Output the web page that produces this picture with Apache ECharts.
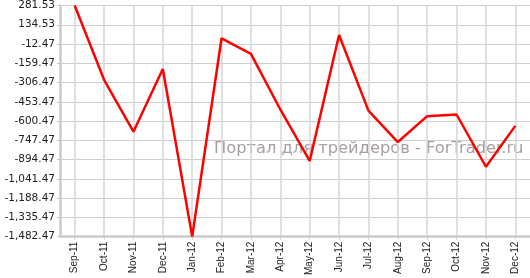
<!DOCTYPE html>
<html>
<head>
<meta charset="utf-8">
<script src="https://cdn.jsdelivr.net/npm/echarts@6/dist/echarts.min.js"></script>
<style>html,body{margin:0;padding:0;background:#fff}#c{width:530px;height:278px}</style>
</head>
<body>
<div id="c"></div>
<script>
var categories = ['Sep-11','Oct-11','Nov-11','Dec-11','Jan-12','Feb-12','Mar-12','Apr-12','May-12','Jun-12','Jul-12','Aug-12','Sep-12','Oct-12','Nov-12','Dec-12'];
var values = [281.53, -285.2, -681.8, -203.5, -1482.47, 31.2, -87.6, -512.0, -904.6, 56.5, -520.6, -760.5, -562.9, -550.3, -949.1, -637.2];
var yMin = -1482.47;
var yMax = 281.53;
var yStep = 147;
var watermark = 'Портал для трейдеров - ForTrader.ru';

var chart = echarts.init(document.getElementById('c'), null, {renderer: 'canvas'});
chart.setOption({
  animation: false,
  backgroundColor: '#ffffff',
  grid: {left: 60, right: -3, top: 2, bottom: 38.5, containLabel: false},
  xAxis: {
    type: 'category',
    data: categories,
    boundaryGap: true,
    axisLine: {onZero: false, lineStyle: {color: '#cbcbcb', width: 2.5}},
    axisTick: {show: true, alignWithLabel: true, length: 3, lineStyle: {color: '#cbcbcb', width: 1}},
    axisLabel: {rotate: 90, margin: 5, fontFamily: 'Liberation Sans, Arial, sans-serif', fontSize: 10, color: '#222'},
    splitLine: {show: true, alignWithLabel: true, lineStyle: {color: '#d6d6d6', width: 1.5}}
  },
  yAxis: {
    type: 'value',
    min: yMin,
    max: yMax,
    interval: yStep,
    axisLine: {show: true, onZero: false, lineStyle: {color: '#cbcbcb', width: 2.5}},
    axisTick: {show: true, length: 3, lineStyle: {color: '#cbcbcb', width: 1}},
    axisLabel: {
      margin: 5,
      fontFamily: 'DejaVu Sans, Verdana, sans-serif',
      fontSize: 10.5,
      color: '#222',
      formatter: function (v) {
        return v.toLocaleString('en-US', {minimumFractionDigits: 2, maximumFractionDigits: 2});
      }
    },
    splitLine: {show: true, lineStyle: {color: '#cecece', width: 1}}
  },
  graphic: [{
    type: 'text',
    left: 214,
    top: 141,
    z: -10,
    zlevel: 0,
    style: {text: watermark, fill: '#a89f9f', font: '16.3px "DejaVu Sans", sans-serif'}
  }],
  series: [{
    type: 'line',
    data: values,
    symbol: 'none',
    clip: false,
    lineStyle: {color: '#ff0000', width: 2.5},
    z: 100
  }]
});
</script>
</body>
</html>
